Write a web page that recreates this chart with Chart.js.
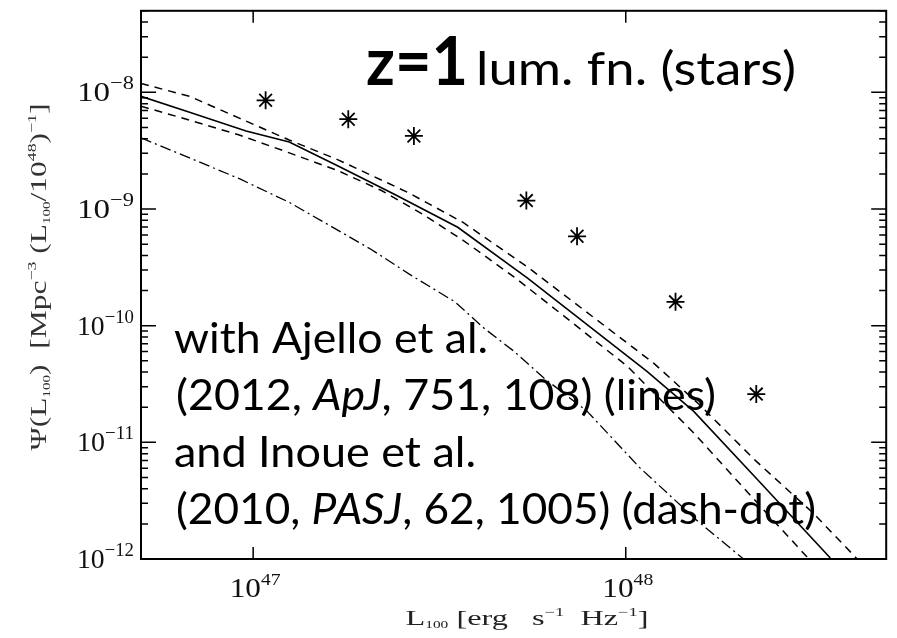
<!DOCTYPE html>
<html>
<head>
<meta charset="utf-8">
<script src="https://cdn.jsdelivr.net/npm/chart.js@4.4.1/dist/chart.umd.min.js"></script>
<style>
	html, body { margin: 0; padding: 0; background: #fff; }
	canvas { display: block; }
</style>
</head>
<body>
<canvas id="lumFnChart" width="897" height="638"></canvas>
<script>
// z=1 luminosity function
// L100 in erg s^-1 Hz^-1, Psi in Mpc^-3 (L100/1e48)^-1

// stars
const starL = [1.08e47, 1.80e47, 2.70e47, 5.41e47, 7.40e47, 1.36e48, 2.24e48];
const starPsi = [8.55e-9, 5.89e-9, 4.23e-9, 1.18e-9, 5.83e-10, 1.60e-10, 2.59e-11];

// Ajello et al. 2012, solid line
const ajelloL = [5.0e46, 6.75e46, 9.57e46, 1.25e47, 1.69e47, 2.40e47, 3.54e47, 5.45e47, 1.14e48, 1.52e48, 2.23e48, 3.54e48];
const ajelloPsi = [9.25e-9, 6.76e-9, 4.66e-9, 3.75e-9, 2.34e-9, 1.33e-9, 6.97e-10, 2.56e-10, 4.06e-11, 1.85e-11, 4.99e-12, 1.02e-12];

// Ajello et al. 2012, upper dashed
const ajelloUpL = [5.0e46, 6.75e46, 9.18e46, 1.25e47, 1.69e47, 2.61e47, 3.66e47, 5.45e47, 1.19e48, 1.57e48, 2.23e48, 3.19e48, 4.18e48];
const ajelloUpPsi = [1.19e-8, 9.25e-9, 6.01e-9, 3.90e-9, 2.64e-9, 1.38e-9, 7.67e-10, 3.18e-10, 4.75e-11, 2.13e-11, 6.97e-12, 2.46e-12, 1.0e-12];

// Ajello et al. 2012, lower dashed
const ajelloLowL = [5.0e46, 6.75e46, 9.18e46, 1.25e47, 1.69e47, 2.21e47, 2.86e47, 3.66e47, 5.02e47, 6.87e47, 1.01e48, 1.52e48, 2.26e48, 3.10e48];
const ajelloLowPsi = [7.60e-9, 5.78e-9, 4.31e-9, 3.03e-9, 2.13e-9, 1.44e-9, 8.97e-10, 5.39e-10, 2.61e-10, 1.19e-10, 4.48e-11, 1.21e-11, 3.00e-12, 1.0e-12];

// Inoue et al. 2010, dash-dot
const inoueL = [5.0e46, 6.75e46, 9.18e46, 1.25e47, 1.69e47, 2.07e47, 2.65e47, 3.48e47, 4.18e47, 5.02e47, 6.04e47, 7.87e47, 1.09e48, 1.55e48, 2.07e48];
const inouePsi = [4.07e-9, 2.74e-9, 1.82e-9, 1.14e-9, 6.56e-10, 4.52e-10, 2.71e-10, 1.60e-10, 9.42e-11, 6.01e-11, 3.54e-11, 1.85e-11, 6.07e-12, 2.15e-12, 1.0e-12];

// axis decades
const yDecades = [-12, -11, -10, -9, -8];
const xDecades = [47, 48];

const toPoints = (xs, ys) => xs.map((x, i) => ({ x, y: ys[i] }));

const SERIF = "'Liberation Serif', 'DejaVu Serif', serif";
const SANS = "Lato, 'Open Sans', sans-serif";

// draw a row of text runs (for super/subscripts), optionally squeezed to a width
const drawRuns = (ctx, runs, x, y, align, targetWidth) => {
	let w = 0;
	runs.forEach((r) => {
		ctx.font = r.font;
		r.w = ctx.measureText(r.t).width;
		w += r.w;
	});
	const sx = targetWidth ? targetWidth / w : 1;
	let start = x;
	if (align === "center") start = x - (w * sx) / 2;
	if (align === "right") start = x - w * sx;
	ctx.save();
	ctx.translate(start, y);
	ctx.scale(sx, 1);
	let cx = 0;
	runs.forEach((r) => {
		ctx.font = r.font;
		ctx.fillText(r.t, cx, r.dy || 0);
		cx += r.w;
	});
	ctx.restore();
};

const framePlugin = {
	id: "frameAndText",
	afterDatasetsDraw(chart) {
		const { ctx, chartArea: a, scales } = chart;
		const xs = scales.x;
		const ys = scales.y;
		ctx.save();
		ctx.strokeStyle = "#000";
		ctx.fillStyle = "#000";
		ctx.textAlign = "left";
		ctx.textBaseline = "alphabetic";

		// frame
		ctx.lineWidth = 2;
		ctx.strokeRect(a.left, a.top, a.right - a.left, a.bottom - a.top);

		// y ticks (inward, both sides)
		ctx.lineWidth = 1.5;
		ctx.beginPath();
		for (let e = -12; e <= -8; e++) {
			for (let m = 1; m <= 9; m++) {
				const v = m * Math.pow(10, e);
				if (v < ys.min || v > ys.max) continue;
				const py = ys.getPixelForValue(v);
				const len = m === 1 ? 15 : 7;
				ctx.moveTo(a.left, py);
				ctx.lineTo(a.left + len, py);
				ctx.moveTo(a.right, py);
				ctx.lineTo(a.right - len, py);
			}
		}
		// x ticks, majors only
		xDecades.forEach((e) => {
			const px = xs.getPixelForValue(Math.pow(10, e));
			ctx.moveTo(px, a.bottom);
			ctx.lineTo(px, a.bottom - 12);
			ctx.moveTo(px, a.top);
			ctx.lineTo(px, a.top + 12);
		});
		ctx.stroke();

		// y tick labels
		ctx.fillStyle = "#111";
		yDecades.forEach((e) => {
			const py = ys.getPixelForValue(Math.pow(10, e));
			drawRuns(ctx, [
				{ t: "10", font: `28px ${SERIF}` },
				{ t: `\u2212${-e}`, font: `19px ${SERIF}`, dy: -12 },
			], 134, py + 9, "right", 57);
		});
		// x tick labels
		xDecades.forEach((e) => {
			const px = xs.getPixelForValue(Math.pow(10, e));
			drawRuns(ctx, [
				{ t: "10", font: `27px ${SERIF}` },
				{ t: `${e}`, font: `17px ${SERIF}`, dy: -12 },
			], px + 2, 597, "center", 51);
		});

		// axis titles
		ctx.fillStyle = "#222";
		drawRuns(ctx, [
			{ t: "L", font: `21px ${SERIF}` },
			{ t: "100", font: `10px ${SERIF}`, dy: 3 },
			{ t: " [erg   s", font: `21px ${SERIF}` },
			{ t: "\u22121", font: `12px ${SERIF}`, dy: -9 },
			{ t: "  Hz", font: `21px ${SERIF}` },
			{ t: "\u22121", font: `12px ${SERIF}`, dy: -9 },
			{ t: "]", font: `21px ${SERIF}` },
		], 527, 625, "center", 243);

		ctx.fillStyle = "#333";
		ctx.save();
		ctx.translate(46, 277);
		ctx.rotate(-Math.PI / 2);
		drawRuns(ctx, [
			{ t: "\u03A8(L", font: `23px ${SERIF}` },
			{ t: "100", font: `11px ${SERIF}`, dy: 4 },
			{ t: ")  [Mpc", font: `23px ${SERIF}` },
			{ t: "\u22123", font: `13px ${SERIF}`, dy: -10 },
			{ t: " (L", font: `23px ${SERIF}` },
			{ t: "100", font: `11px ${SERIF}`, dy: 4 },
			{ t: "/10", font: `23px ${SERIF}` },
			{ t: "48", font: `13px ${SERIF}`, dy: -10 },
			{ t: ")", font: `23px ${SERIF}` },
			{ t: "\u22121", font: `13px ${SERIF}`, dy: -10 },
			{ t: "]", font: `23px ${SERIF}` },
		], 0, 0, "center", 347);
		ctx.restore();

		// annotations
		ctx.fillStyle = "#000";
		drawRuns(ctx, [{ t: "z=1", font: `bold 66px ${SANS}` }], 366, 85, "left", 102);
		drawRuns(ctx, [{ t: "lum. fn. (stars)", font: `47px ${SANS}` }], 476, 85, "left", 320);

		const body = `42px ${SANS}`;
		const bodyIt = `italic 42px ${SANS}`;
		drawRuns(ctx, [{ t: "with Ajello et al.", font: body }], 174, 353, "left", 314);
		drawRuns(ctx, [
			{ t: "(2012, ", font: body },
			{ t: "ApJ", font: bodyIt },
			{ t: ", 751, 108) (lines)", font: body },
		], 176, 410, "left", 540);
		drawRuns(ctx, [{ t: "and Inoue et al.", font: body }], 174, 467, "left", 302);
		drawRuns(ctx, [
			{ t: "(2010, ", font: body },
			{ t: "PASJ", font: bodyIt },
			{ t: ", 62, 1005) (dash-dot)", font: body },
		], 176, 524, "left", 640);
		ctx.restore();
	},
};

const lineStyle = {
	borderColor: "#000",
	borderWidth: 1.5,
	pointRadius: 0,
	fill: false,
	tension: 0,
};

new Chart(document.getElementById("lumFnChart"), {
	type: "line",
	data: {
		datasets: [
			{ ...lineStyle, label: "Ajello", data: toPoints(ajelloL, ajelloPsi), borderWidth: 1.6 },
			{ ...lineStyle, label: "Ajello upper", data: toPoints(ajelloUpL, ajelloUpPsi), borderDash: [8, 6] },
			{ ...lineStyle, label: "Ajello lower", data: toPoints(ajelloLowL, ajelloLowPsi), borderDash: [8, 6] },
			{ ...lineStyle, label: "Inoue", data: toPoints(inoueL, inouePsi), borderWidth: 1.3, borderDash: [11, 4, 2, 4] },
			{
				label: "stars",
				data: toPoints(starL, starPsi),
				showLine: false,
				pointStyle: "star",
				pointRadius: 9,
				pointBorderWidth: 1.8,
				pointBorderColor: "#000",
				pointBackgroundColor: "#000",
			},
		],
	},
	options: {
		responsive: false,
		animation: false,
		layout: { padding: { left: 141, right: 7, top: 7, bottom: 79 } },
		plugins: {
			legend: { display: false },
			tooltip: { enabled: false },
		},
		scales: {
			x: { type: "logarithmic", min: 5e46, max: 5e48, display: false },
			y: { type: "logarithmic", min: 1e-12, max: 5e-8, display: false },
		},
	},
	plugins: [framePlugin],
});
</script>
</body>
</html>
